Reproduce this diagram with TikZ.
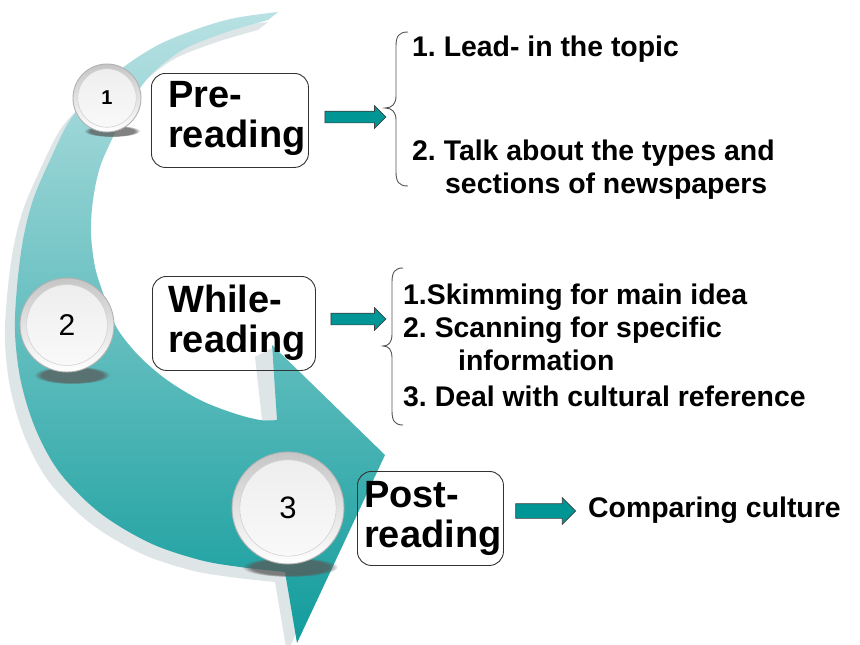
\documentclass[tikz,border=0pt]{standalone}
\usepackage{fontspec}
\setmainfont{Liberation Sans}
\usetikzlibrary{shapes.arrows,fadings}
\definecolor{tealA}{RGB}{184,225,227}
\definecolor{tealB}{RGB}{110,197,198}
\definecolor{tealC}{RGB}{18,156,156}
\definecolor{shadowgrey}{RGB}{222,229,231}
\definecolor{arrowteal}{RGB}{0,150,150}
\definecolor{bracegrey}{RGB}{85,85,85}
\frenchspacing
\def\bigarrowpath{plot[smooth, tension=0.55] coordinates {(278,12) (235,18) (200,28) (160,44) (125,66) (95,92) (70,120) (50,160) (33,200) (23,240) (17,287) (15,333) (21,382) (36,430) (60,473) (100,513) (150,543) (200,560) (240,567) (285,572)}
 -- (297,643) -- (385,455) -- (272,345) -- (277,420)
 -- plot[smooth, tension=0.55] coordinates {(277,420) (260,420) (233,413) (200,400) (167,380) (140,357) (120,333) (110,313) (103,293) (95,267) (91,233) (93,200) (100,167) (113,137) (128,106) (148,78) (168,60) (190,46) (230,31) (268,20)} -- cycle}
\begin{document}
\begin{tikzpicture}[x=1pt,y=-1pt,
  lblbox/.style={draw=black!80, line width=0.9pt, rounded corners=14pt, inner sep=0pt},
  lbl/.style={font=\fontsize{38}{40}\selectfont\bfseries, align=left, inner sep=0pt},
  item/.style={font=\fontsize{28.4}{33}\selectfont\bfseries, align=left, inner sep=0pt},
  blockarrow/.style={single arrow, draw=black!75, line width=0.7pt, fill=arrowteal, inner xsep=0pt, inner ysep=5.5pt, single arrow head extend=5.5pt, single arrow head indent=0pt},
  brace/.style={draw=bracegrey, line width=0.9pt},
  btn/.style={circle, draw=gray!60, line width=0.9pt, top color=gray!45, bottom color=white, inner sep=0pt, minimum size=2*#1,
    path picture={\shade[top color=gray!14, bottom color=white!96!gray, draw=gray!35, line width=0.6pt] (path picture bounding box.center) circle[radius=0.86*#1];}},
  btnshadow/.style={fill=black!65, fill opacity=0.75, path fading=circle with fuzzy edge 20 percent}
]
\useasboundingbox[fill=white] (0,0) rectangle (860,645);

% big curved arrow: shadow and body
\fill[shadowgrey, shift={(-10,10)}] \bigarrowpath;
\fill[shadowgrey] (255,357) -- (272,348) -- (277,420) -- (262,420) -- cycle;
\path[top color=tealA, middle color=tealB, bottom color=tealC] \bigarrowpath;

% button shadows
\fill[btnshadow] (112,131) ellipse[x radius=28, y radius=6];
\fill[btnshadow] (72,375) ellipse[x radius=38, y radius=9];
\fill[btnshadow] (290,567) ellipse[x radius=48, y radius=10];

% buttons
\node[btn=34] (c1) at (107,98) {\fontsize{20}{20}\selectfont\bfseries 1};
\node[btn=47] (c2) at (67,325) {\fontsize{30}{30}\selectfont 2};
\node[btn=56] (c3) at (288,508) {\fontsize{31}{31}\selectfont 3};

% label boxes
\node[lblbox, minimum width=157pt, minimum height=94pt, anchor=north west] (pre) at (151,73) {};
\node[lbl, anchor=base west] (pret) at (168,147) {Pre-\\reading};
\node[lblbox, minimum width=163pt, minimum height=94pt, anchor=north west] (while) at (152,276) {};
\node[lbl, anchor=base west] (whilet) at (168,352) {While-\\reading};
\node[lblbox, minimum width=146pt, minimum height=94pt, anchor=north west] (post) at (357,471) {};
\node[lbl, anchor=base west] (postt) at (364,547) {Post-\\reading};

% braces
\coordinate (b1top) at (408,32);
\coordinate (b1tip) at (385,108);
\coordinate (b1bot) at (408,186);
\draw[brace] (b1top) .. controls (399,32) and (396,36) .. (396,46) -- (396,96)
  .. controls (396,104) and (392,108) .. (b1tip) .. controls (392,108) and (396,112) .. (396,120)
  -- (396,172) .. controls (396,182) and (399,186) .. (b1bot);
\coordinate (b2top) at (403,268);
\coordinate (b2tip) at (383,346);
\coordinate (b2bot) at (403,425);
\draw[brace] (b2top) .. controls (395,268) and (392,272) .. (392,282) -- (392,334)
  .. controls (392,342) and (389,346) .. (b2tip) .. controls (389,346) and (392,350) .. (392,358)
  -- (392,411) .. controls (392,421) and (395,425) .. (b2bot);

% block arrows
\node[blockarrow, minimum height=61pt] (a1) at (352.5,117) {};
\node[blockarrow, minimum height=55pt] (a2) at (355.5,319) {};
\node[blockarrow, minimum height=60pt, inner ysep=7pt, single arrow head extend=6pt] (a3) at (542,511) {};

% right texts
\node[item, anchor=base west] (p1) at (412,56) {1. Lead- in the topic};
\node[item, anchor=base west] (p2) at (412,193) {2. Talk about the types and\\\hspace*{33pt}sections of newspapers};
\node[item, anchor=base west] (w1) at (403,304) {1.Skimming for main idea};
\node[item, anchor=base west] (w2) at (403,370) {2. Scanning for specific\\\hspace*{55pt}information};
\node[item, anchor=base west] (w3) at (403,406) {3. Deal with cultural reference};
\node[item, anchor=base west] (r1) at (588,517) {Comparing culture};
\end{tikzpicture}
\end{document}
